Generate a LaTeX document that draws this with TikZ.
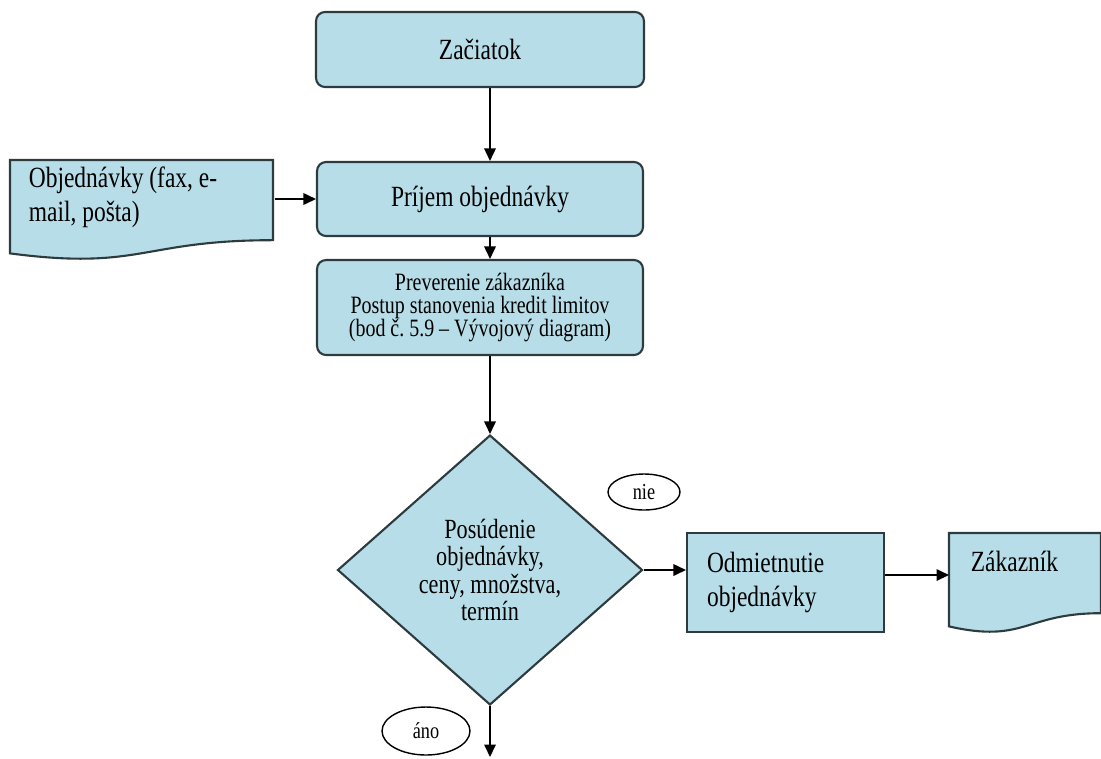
\documentclass[tikz,border=0pt]{standalone}
\usepackage{fontspec}
\setmainfont{Liberation Serif}[FakeStretch=0.8]
\frenchspacing
\usetikzlibrary{arrows.meta,shapes.geometric,backgrounds,positioning}

\definecolor{boxfill}{HTML}{B7DEE8}
\definecolor{boxline}{HTML}{2E3B3E}

% document symbol: outline drawn behind a named text node
\newcommand\docoutline[3]{%
  \begin{scope}[shift={(#1.north west)}, x=#2, y=-#3]
    \filldraw[flow] (0,0) -- (1,0) -- (1,0.802)
      .. controls (0.5,0.802) and (0.5,1.107) .. (0,0.934) -- cycle;
  \end{scope}}

\tikzset{
  flow/.style={draw=boxline, line width=1.2pt, fill=boxfill},
  procbox/.style={flow, rounded corners=0.18cm, font=\fontsize{16.7}{19.3}\selectfont},
  smalltext/.style={font=\fontsize{14.2}{13.2}\selectfont},
  decision/.style={flow, diamond, inner sep=0pt, align=flush center, font=\fontsize{15.8}{15.6}\selectfont},
  doctext/.style={anchor=north west, align=flush left, font=\fontsize{16.7}{19.3}\selectfont},
  tag/.style={ellipse, draw=black, line width=0.8pt, fill=white, inner sep=0pt, font=\fontsize{13}{14}\selectfont},
}

\begin{document}
\begin{tikzpicture}[x=0.02cm, y=-0.02cm, >={Triangle[length=0.25cm, width=0.23cm]}, line width=0.95pt]
  \useasboundingbox (0,0) rectangle (1101,758);

  \node[procbox, minimum width=6.56cm, minimum height=1.5cm] (start) at (480,49.5) {Začiatok};
  \node[procbox, minimum width=6.52cm, minimum height=1.48cm] (recv) at (480,199) {Príjem objednávky};
  \node[procbox, smalltext, align=flush center, minimum width=6.52cm, minimum height=1.9cm] (check) at (480,307.5)
    {Preverenie zákazníka\\Postup stanovenia kredit limitov\\(bod č.\ 5.9 – Vývojový diagram)};
  \node[decision, minimum width=6.1cm, minimum height=5.4cm] (dec) at (490,570)
    {Posúdenie\\objednávky,\\ceny, množstva,\\termín};
  \node[flow, font=\fontsize{16.7}{19.3}\selectfont, align=flush left, text width=3.14cm, inner xsep=0.4cm,
    minimum height=1.98cm] (reject) at (785.5,582.5) {Odmietnutie\\objednávky};

  \node[doctext, text width=4.54cm, inner xsep=0.36cm, inner ysep=0.12cm] (orders) at (10,160)
    {Objednávky (fax, e-\\mail, pošta)};
  \node[doctext, text width=2.2cm, inner xsep=0.42cm, inner ysep=0.35cm] (cust) at (949,533) {Zákazník};
  \begin{scope}[on background layer]
    \docoutline{orders}{5.26cm}{2cm}
    \docoutline{cust}{3.04cm}{2cm}
  \end{scope}

  \node[tag, minimum width=1.44cm, minimum height=0.72cm] (no) at (644,492) {nie};
  \node[tag, minimum width=1.76cm, minimum height=0.96cm] (yes) at (426,731) {áno};

  \coordinate (out) at (490,757);

  \draw[->] (start.south -| dec.north) -- (recv.north -| dec.north);
  \draw[->] (recv.south -| dec.north) -- (check.north -| dec.north);
  \draw[->] (check.south -| dec.north) -- (dec.north);
  \draw[->] (orders.east |- recv.west) -- (recv.west);
  \draw[->] (dec.east) -- (dec.east -| reject.west);
  \draw[->] ([yshift=0.15cm]reject.east) -- ([yshift=0.15cm]reject.east -| cust.west);
  \draw[->] (dec.south) -- (out);
\end{tikzpicture}
\end{document}
